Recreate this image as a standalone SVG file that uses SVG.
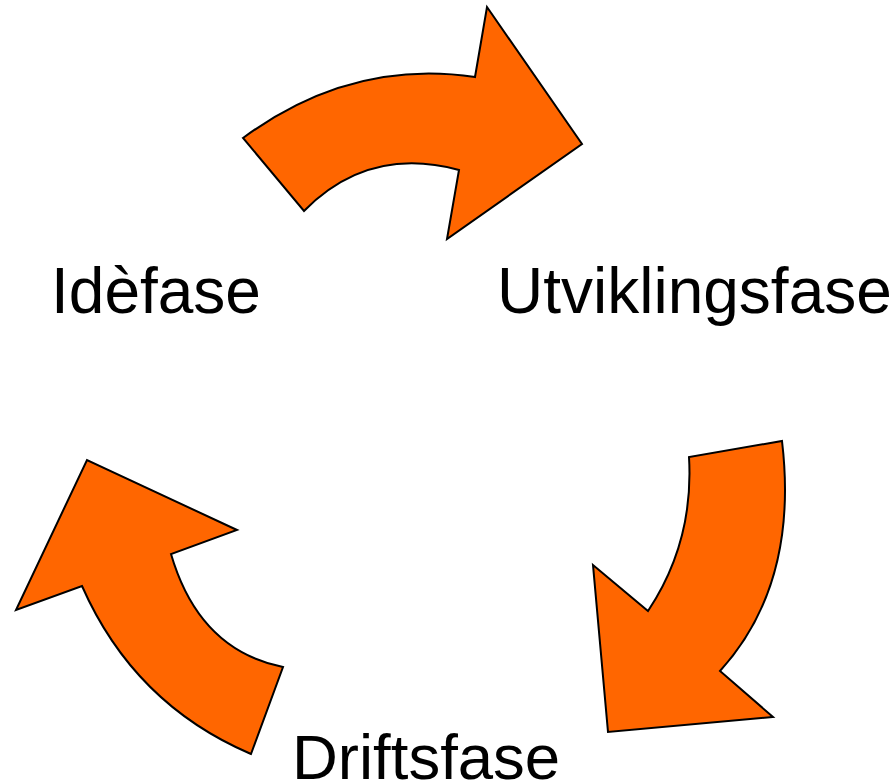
<svg xmlns="http://www.w3.org/2000/svg" width="896" height="783" viewBox="0 0 896 783">
<style>
.arrow{fill:#ff6600;stroke:#000;stroke-width:2;stroke-linejoin:miter}
.label{font-family:"Liberation Sans",Arial,sans-serif;font-size:64px;fill:#000}
</style>
<rect width="896" height="783" fill="#fff"/>
<g id="connectors">
<path id="arrow-top" class="arrow" d="M243,138 Q351,58.5 475,77 L487,7 L582,144 L447,239 L459,170 Q368.5,145.5 304,211 Z"/>
<path id="arrow-right" class="arrow" d="M782,441 Q799,584 720,671 L773,717 L608,732 L593,565 L648,611 Q694,542 689,457 Z"/>
<path id="arrow-left" class="arrow" d="M283,667 Q199,650 171,554 L237,530 L87,460 L16,610 L82,586 Q134,704 251,754 Z"/>
</g>
<g id="node-idefase"><text class="label" x="51" y="313">Idèfase</text></g>
<g id="node-utviklingsfase"><text class="label" x="497" y="313">Utviklingsfase</text></g>
<g id="node-driftsfase"><text class="label" x="292" y="779" style="font-size:63.5px">Driftsfase</text></g>
</svg>
